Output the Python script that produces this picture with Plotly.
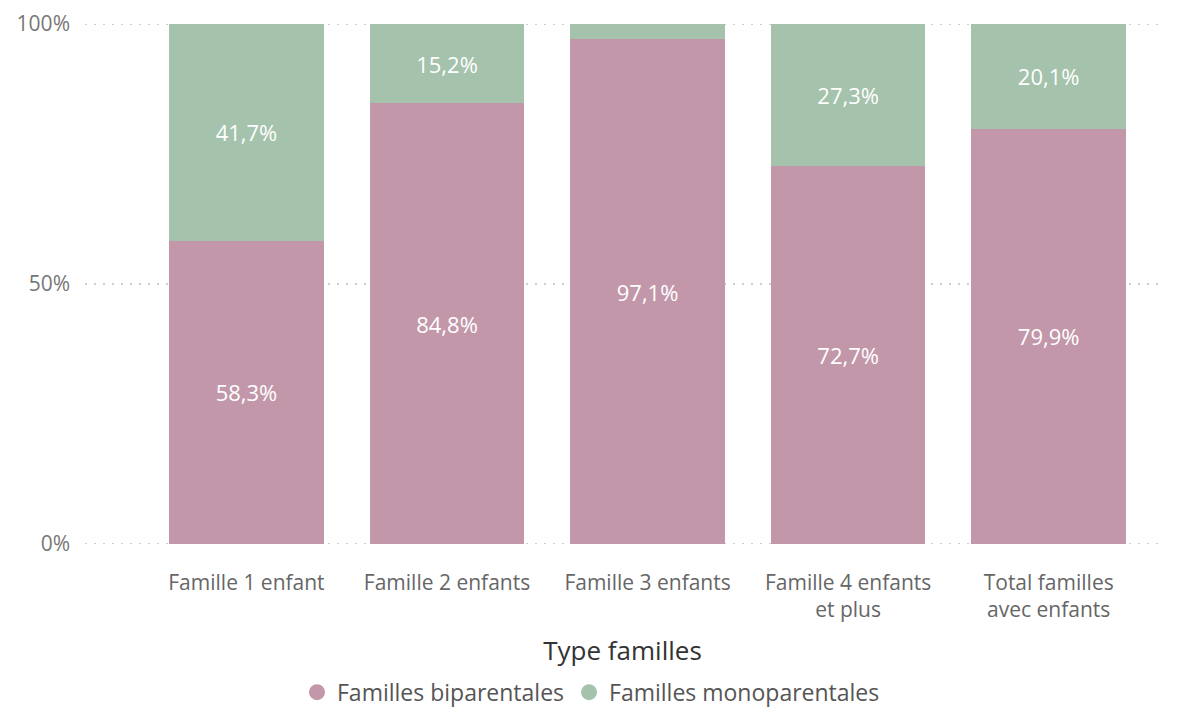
import plotly.graph_objects as go

categories = ["Famille 1 enfant", "Famille 2 enfants", "Famille 3 enfants",
              "Famille 4 enfants<br>et plus", "Total familles<br>avec enfants"]
biparentales = [58.3, 84.8, 97.1, 72.7, 79.9]
monoparentales = [41.7, 15.2, 2.9, 27.3, 20.1]
series_names = ["Familles biparentales", "Familles monoparentales"]
series_colors = ["#C297A9", "#A4C2AC"]
ytick_vals = [0, 50, 100]
ytick_text = ["0%", "50%", "100%"]

def fmt(v):
    return ("%.1f%%" % v).replace(".", ",")

font_family = "Open Sans, Noto Sans, sans-serif"

fig = go.Figure()
for vals, name, col in zip([biparentales, monoparentales], series_names, series_colors):
    fig.add_trace(go.Bar(
        x=categories, y=vals, name=name, showlegend=False,
        marker=dict(color=col, line=dict(width=0)),
        text=[fmt(v) if v > 5 else "" for v in vals], textposition="inside",
        insidetextanchor="middle", textangle=0,
        textfont=dict(color="white", size=22, family=font_family),
        cliponaxis=False,
    ))
# legend entries with circle markers
for name, col in zip(series_names, series_colors):
    fig.add_trace(go.Scatter(
        x=[None], y=[None], mode="markers", name=name,
        marker=dict(color=col, size=16, symbol="circle"),
    ))

# dotted grid lines drawn below bars
for v in ytick_vals:
    fig.add_shape(type="line", xref="paper", x0=0, x1=1, yref="y", y0=v, y1=v,
                  line=dict(color="#BDBDBD", width=1.5, dash="2px,7px"), layer="below")

fig.update_layout(
    barmode="stack",
    bargap=0.23,
    width=1182, height=710,
    margin=dict(l=85, r=22, t=24, b=166, autoexpand=False),
    plot_bgcolor="white", paper_bgcolor="white",
    font=dict(family=font_family, color="#666666", size=20),
    xaxis=dict(
        range=[-0.805, 4.555],
        showgrid=False, showline=False, zeroline=False,
        ticks="", tickfont=dict(size=21, color="#666666"),
        ticklabelstandoff=24, automargin=False,
        title=dict(text="Type familles", font=dict(size=26, color="#333333"), standoff=19),
    ),
    yaxis=dict(
        range=[0, 100],
        tickvals=ytick_vals,
        ticktext=ytick_text,
        showgrid=False, automargin=False,
        zeroline=False, showline=False, ticks="",
        tickfont=dict(size=21, color="#777777"),
        ticklabelstandoff=14,
    ),
    legend=dict(
        orientation="h", x=0.5, xanchor="center", xref="container",
        y=0.025, yanchor="middle", yref="container",
        font=dict(size=23, color="#555555"),
        traceorder="normal",
        itemwidth=30,
    ),
)

fig.write_html("out.html")
